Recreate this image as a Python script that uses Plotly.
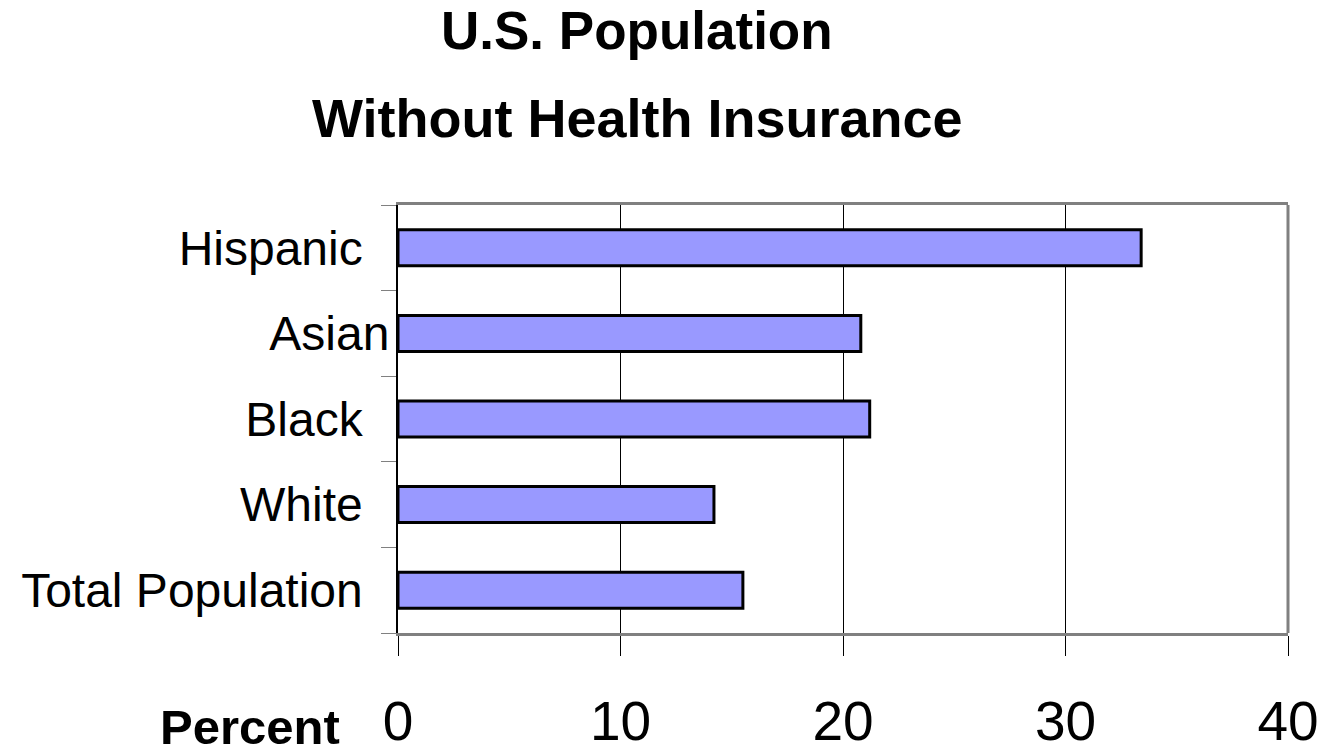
import plotly.graph_objects as go

# Data (bottom to top as drawn)
categories = ["Total Population", "White", "Black", "Asian", "Hispanic"]
tick_labels = ["Total Population\u00a0\u00a0", "White\u00a0\u00a0", "Black\u00a0\u00a0", "Asian", "Hispanic\u00a0\u00a0"]
percent_values = [15.5, 14.2, 21.2, 20.8, 33.4]
x_ticks = [0, 10, 20, 30, 40]
title_line1 = "U.S. Population"
title_line2 = "Without Health Insurance"
x_label = "Percent"

FONT = "Liberation Sans, Arial, sans-serif"

fig = go.Figure()
fig.add_trace(go.Bar(
    x=percent_values,
    y=categories,
    orientation="h",
    marker=dict(color="#9999ff", line=dict(color="black", width=3)),
    hoverinfo="x+y",
))

# page body has an 8px margin, so the figure is drawn 8px smaller and offset
fig.update_layout(
    width=1326, height=748,
    margin=dict(l=390, r=46, t=197, b=123, autoexpand=False),
    paper_bgcolor="white", plot_bgcolor="white",
    bargap=0.58,
    showlegend=False,
    xaxis=dict(
        range=[0, 40], tickvals=x_ticks, ticktext=[str(v) for v in x_ticks],
        automargin=False,
        showgrid=True, gridcolor="black", gridwidth=1,
        zeroline=False,
        showline=True, linecolor="#808080", linewidth=3, mirror=True,
        ticks="outside", ticklen=20, tickcolor="black", tickwidth=1,
        tickfont=dict(family=FONT, size=55, color="black"),
        ticklabelstandoff=18,
    ),
    yaxis=dict(
        type="category",
        categoryorder="array", categoryarray=categories,
        tickvals=categories, ticktext=tick_labels,
        automargin=False,
        showgrid=False, zeroline=False,
        showline=True, linecolor="black", linewidth=2,
        ticks="outside", ticklen=15, tickcolor="#808080", tickwidth=1,
        tickson="boundaries",
        tickfont=dict(family=FONT, size=48, color="black"),
        ticklabelstandoff=-3,
    ),
    shapes=[dict(type="line", xref="paper", yref="paper", x0=1, x1=1, y0=0, y1=1,
                 line=dict(color="#808080", width=3))],
    annotations=[
        dict(text=title_line1, xref="paper", yref="paper", x=(637 - 398) / 890, y=(633 - 30) / 428,
             xanchor="center", yanchor="middle", showarrow=False,
             font=dict(family=FONT, size=53, color="black", weight="bold")),
        dict(text=title_line2, xref="paper", yref="paper", x=(637 - 398) / 890, y=(633 - 118) / 428,
             xanchor="center", yanchor="middle", showarrow=False,
             font=dict(family=FONT, size=54, color="black", weight="bold")),
        dict(text="<b>" + x_label + "</b>", xref="paper", yref="paper", x=(342 - 398) / 890, y=(633 - 727) / 428,
             xanchor="right", yanchor="middle", showarrow=False,
             font=dict(family=FONT, size=49, color="black")),
    ],
)

fig.write_html("out.html")
